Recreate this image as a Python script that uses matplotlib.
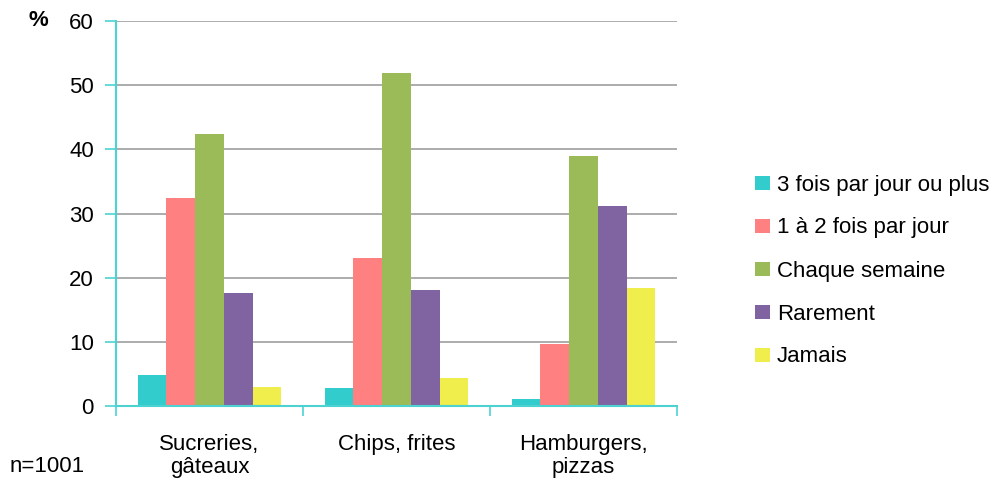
import matplotlib.pyplot as plt
import numpy as np

# categories and series (percent)
categories = ["Sucreries,\ngâteaux", "Chips, frites", "Hamburgers,\npizzas"]
series_names = ["3 fois par jour ou plus", "1 à 2 fois par jour", "Chaque semaine",
                "Rarement", "Jamais"]
trois_fois = [4.9, 2.85, 1.1]
une_deux_fois = [32.4, 23.1, 9.65]
chaque_semaine = [42.4, 51.9, 38.9]
rarement = [17.6, 18.1, 31.1]
jamais = [3.0, 4.3, 18.4]
yticks = [0, 10, 20, 30, 40, 50, 60]

values = [trois_fois, une_deux_fois, chaque_semaine, rarement, jamais]
colors = ["#33CCCC", "#FF8080", "#9BBB59", "#8064A2", "#F0EE4C"]
axis_col = "#4DD2D2"

plt.rcParams['font.family'] = ['Liberation Sans', 'DejaVu Sans']
fs = 16

fig = plt.figure(figsize=(10.01, 4.84), dpi=100)
ax = fig.add_axes([116 / 1001, 1 - 406 / 484, 561 / 1001, 385 / 484])

x = np.arange(len(categories)) + 0.5
w = 0.77 / 5
handles = []
for i, (vals, c) in enumerate(zip(values, colors)):
    b = ax.bar(x + (i - 2) * w, vals, width=w, color=c, zorder=3, label=series_names[i])
    handles.append(b)

ax.set_xlim(0, 3)
ax.set_ylim(0, 60)
ax.set_yticks(yticks)
ax.yaxis.grid(True, color="#9E9E9E", linewidth=1.2, zorder=0)

# x axis: ticks at category boundaries, labels at centers
ax.set_xticks([0, 1, 2, 3])
ax.set_xticklabels([])
ax.set_xticks(x, minor=True)
ax.set_xticklabels(categories, minor=True, fontsize=fs, va="top", linespacing=1.15)
ax.tick_params(axis="x", which="major", direction="out", length=7, color=axis_col, width=1.2)
ax.tick_params(axis="x", which="minor", length=0, pad=20)
ax.tick_params(axis="y", direction="out", length=8, color=axis_col, width=1.2,
               labelsize=fs, pad=8)

for s in ["top", "right"]:
    ax.spines[s].set_visible(False)
for s in ["left", "bottom"]:
    ax.spines[s].set_color(axis_col)
    ax.spines[s].set_linewidth(1.5)
    ax.spines[s].set_zorder(4)

fig.text(38 / 1001, 1 - 21 / 484, "%", fontsize=fs, fontweight="bold", ha="center", va="center")
fig.text(10 / 1001, 1 - 466 / 484, "n=1001", fontsize=fs, ha="left", va="center")

fig.legend(handles=handles, loc="center left", bbox_to_anchor=(755 / 1001, 1 - 271 / 484),
           frameon=False, fontsize=fs, handlelength=0.68, handleheight=0.6,
           handletextpad=0.3, labelspacing=0.99, borderaxespad=0, borderpad=0)

fig.savefig("out.png", dpi=100)
